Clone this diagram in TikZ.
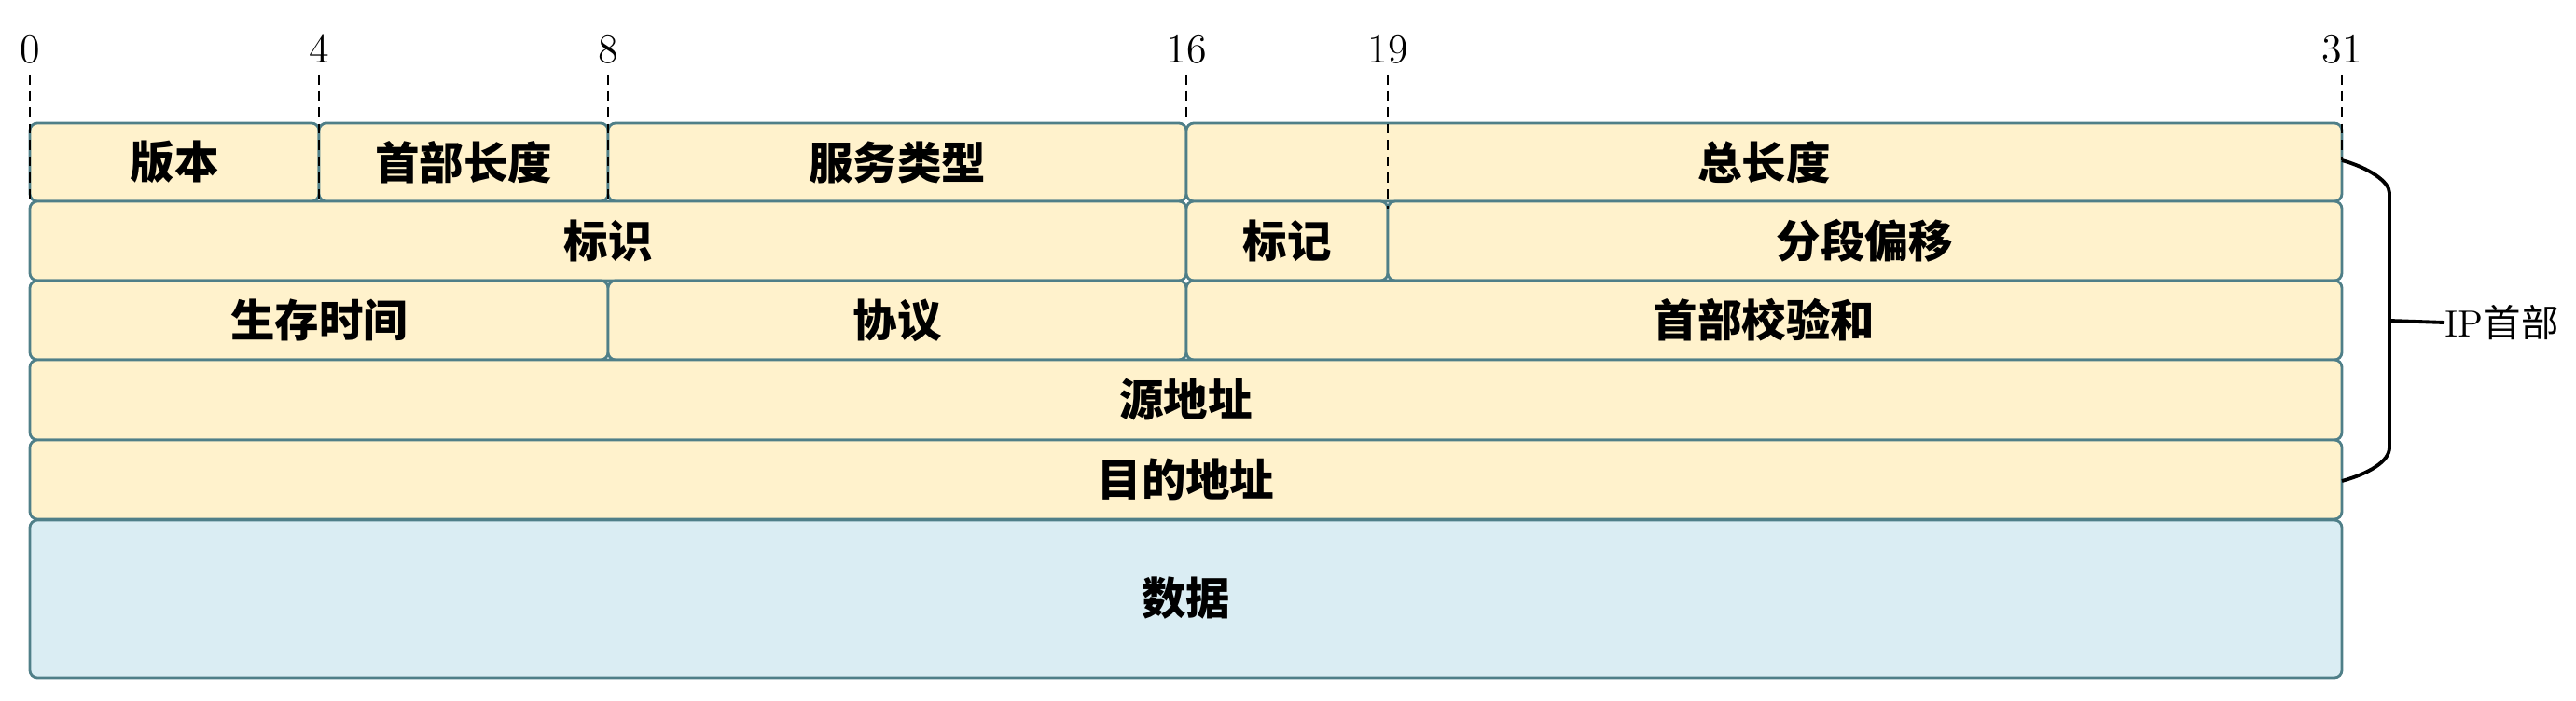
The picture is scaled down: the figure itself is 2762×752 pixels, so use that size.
\documentclass[tikz,border=0pt]{standalone}
\usepackage{fontspec}
\newfontfamily\cjk{Noto Sans CJK SC}
\definecolor{edge}{HTML}{4F7F88}
\definecolor{hdrfill}{HTML}{FFF2CC}
\definecolor{datafill}{HTML}{DAEDF3}
\tikzset{
  cell/.style={draw=edge, line width=0.8pt, rounded corners=0.08cm, fill=hdrfill},
  datacell/.style={draw=edge, line width=0.8pt, rounded corners=0.08cm, fill=datafill},
  lbl/.style={font=\cjk\bfseries\fontsize{13.5}{16}\selectfont, text=black},
  bitlbl/.style={font=\fontsize{12.5}{14}\selectfont, text=black, anchor=base},
  guide/.style={densely dashed, line width=0.5pt, black},
  bracket/.style={line width=1.1pt, black}
}
\begin{document}
\begin{tikzpicture}[x=0.01cm,y=-0.01cm]
\useasboundingbox (0,0) rectangle (2762,752);
% bit x-positions
\def\xa{32}\def\xb{342}\def\xc{652}\def\xd{1272}\def\xe{1488}\def\xf{2511}
% row y-positions
\def\ya{132}\def\yb{216}\def\yc{301}\def\yd{386}\def\ye{472}\def\yf{557}\def\yg{727}
% cells
\path[cell] (\xa,\ya) rectangle (\xb,\yb);
\path[cell] (\xb,\ya) rectangle (\xc,\yb);
\path[cell] (\xc,\ya) rectangle (\xd,\yb);
\path[cell] (\xd,\ya) rectangle (\xf,\yb);
\path[cell] (\xa,\yb) rectangle (\xd,\yc);
\path[cell] (\xd,\yb) rectangle (\xe,\yc);
\path[cell] (\xe,\yb) rectangle (\xf,\yc);
\path[cell] (\xa,\yc) rectangle (\xc,\yd);
\path[cell] (\xc,\yc) rectangle (\xd,\yd);
\path[cell] (\xd,\yc) rectangle (\xf,\yd);
\path[cell] (\xa,\yd) rectangle (\xf,\ye);
\path[cell] (\xa,\ye) rectangle (\xf,\yf);
\path[datacell] (\xa,\yf+1) rectangle (\xf,\yg);
% labels
\node[lbl] (ver) at ({(\xa+\xb)/2},{(\ya+\yb)/2}) {版本};
\node[lbl] (ihl) at ({(\xb+\xc)/2},{(\ya+\yb)/2}) {首部长度};
\node[lbl] (tos) at ({(\xc+\xd)/2},{(\ya+\yb)/2}) {服务类型};
\node[lbl] (len) at ({(\xd+\xf)/2},{(\ya+\yb)/2}) {总长度};
\node[lbl] (id) at ({(\xa+\xd)/2},{(\yb+\yc)/2}) {标识};
\node[lbl] (flg) at ({(\xd+\xe)/2},{(\yb+\yc)/2}) {标记};
\node[lbl] (off) at ({(\xe+\xf)/2},{(\yb+\yc)/2}) {分段偏移};
\node[lbl] (ttl) at ({(\xa+\xc)/2},{(\yc+\yd)/2}) {生存时间};
\node[lbl] (pro) at ({(\xc+\xd)/2},{(\yc+\yd)/2}) {协议};
\node[lbl] (chk) at ({(\xd+\xf)/2},{(\yc+\yd)/2}) {首部校验和};
\node[lbl] (src) at ({(\xa+\xf)/2},{(\yd+\ye)/2}) {源地址};
\node[lbl] (dst) at ({(\xa+\xf)/2},{(\ye+\yf)/2}) {目的地址};
\node[lbl] (dat) at ({(\xa+\xf)/2},{(\yf+\yg)/2}) {数据};
% bit numbers
\node[bitlbl] (b0) at (\xa,68) {0};
\node[bitlbl] (b4) at (\xb,68) {4};
\node[bitlbl] (b8) at (\xc,68) {8};
\node[bitlbl] (b16) at (\xd,68) {16};
\node[bitlbl] (b19) at (\xe,68) {19};
\node[bitlbl] (b31) at (\xf,68) {31};
% guides
\coordinate (g0) at (\xa,\yb);
\coordinate (g4) at (\xb,\yb);
\coordinate (g8) at (\xc,\yb);
\coordinate (g16) at (\xd,\ya);
\coordinate (g19) at (\xe,\yb+8);
\coordinate (g31) at (\xf,172);
\draw[guide] (\xa,80) -- (g0);
\draw[guide] (\xb,80) -- (g4);
\draw[guide] (\xc,80) -- (g8);
\draw[guide] (\xd,80) -- (g16);
\draw[guide] (\xe,80) -- (g19);
\draw[guide] (\xf,80) -- (g31);
% bracket
\coordinate (bt) at (\xf,172);
\coordinate (bb) at (\xf,516);
\coordinate (bm) at (2562,344);
\draw[bracket] (bt) .. controls (2540,180) and (2562,195) .. (2562,207) -- (2562,480) .. controls (2562,495) and (2540,508) .. (bb);
\node[font=\fontsize{11.5}{14}\selectfont, anchor=west, inner sep=0pt] (iph) at (2621,346) {IP{\cjk 首部}};
\draw[bracket] (bm) -- (iph.west);
\end{tikzpicture}
\end{document}
